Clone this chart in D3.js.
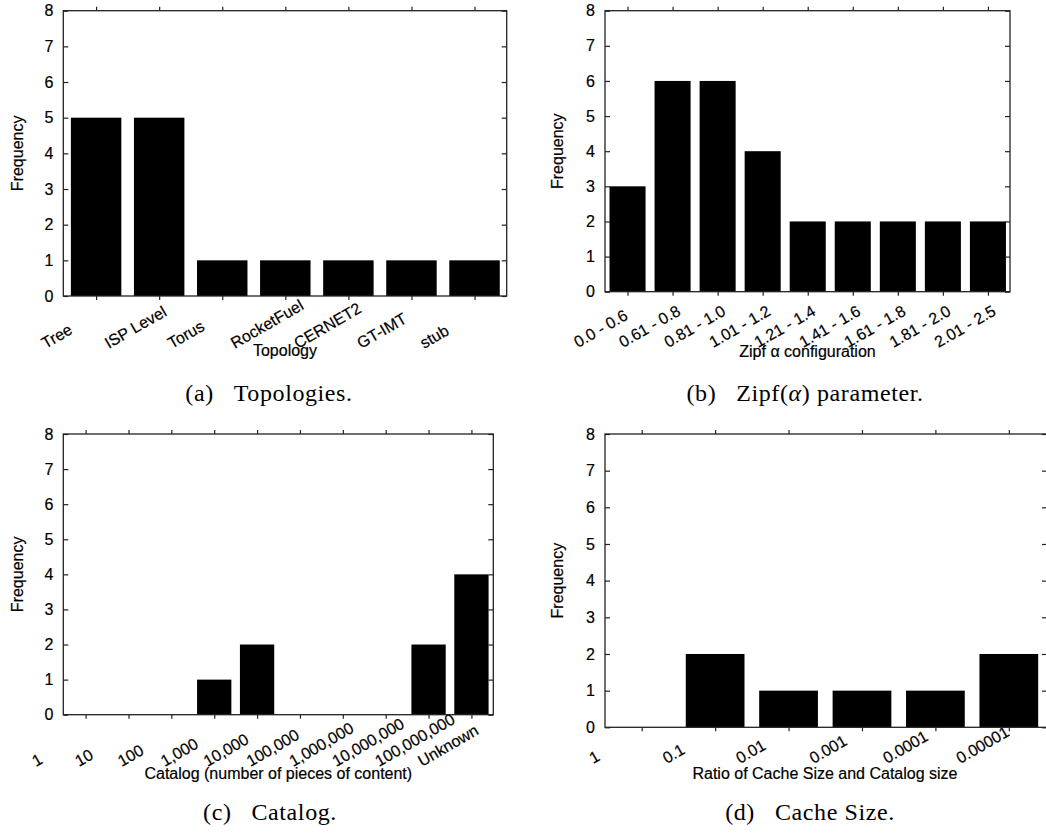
<!DOCTYPE html>
<html>
<head>
<meta charset="utf-8">
<script src="https://cdn.jsdelivr.net/npm/d3@7"></script>
<style>
  body { margin: 0; background: #fff; }
  svg { display: block; }
  .axis path { display: none; }
  .axis line { stroke: #222; stroke-width: 1.2; }
  .axis text { font-family: "Liberation Sans", Arial, sans-serif; fill: #000; stroke: #000; stroke-width: 0.2; }
  .lbl { font-family: "Liberation Sans", Arial, sans-serif; fill: #000; stroke: #000; stroke-width: 0.2; }
  .cap { font-family: "Liberation Serif", "Times New Roman", serif; fill: #000; }
</style>
</head>
<body>
<svg id="fig" width="1046" height="834"></svg>
<script>
// ---- data ----
var topoCats = ["Tree", "ISP Level", "Torus", "RocketFuel", "CERNET2", "GT-IMT", "stub"];
var topoFreq = [5, 5, 1, 1, 1, 1, 1];

var zipfCats = ["0.0 - 0.6", "0.61 - 0.8", "0.81 - 1.0", "1.01 - 1.2", "1.21 - 1.4",
                "1.41 - 1.6", "1.61 - 1.8", "1.81 - 2.0", "2.01 - 2.5"];
var zipfFreq = [3, 6, 6, 4, 2, 2, 2, 2, 2];

var catalogCats = ["1", "10", "100", "1,000", "10,000", "100,000", "1,000,000",
                   "10,000,000", "100,000,000", "Unknown"];
var catalogFreq = [0, 0, 0, 1, 2, 0, 0, 0, 2, 4];

var cacheCats = ["1", "0.1", "0.01", "0.001", "0.0001", "0.00001"];
var cacheFreq = [0, 2, 1, 1, 1, 2];

var yTicks = [0, 1, 2, 3, 4, 5, 6, 7, 8];

// ---- layout of the four panels (pixels) ----
var panels = [
  { cats: topoCats, vals: topoFreq, left: 63.3, right: 506.7, top: 10.7, bottom: 296,
    lo: -0.52, hi: 6.51, labY: 349, labDx: -51, xTitle: "Topology", titleY: 356, yLabX: 23,
    cap: ["(a)", "Topologies."], capX: 269, capY: 401 },
  { cats: zipfCats, vals: zipfFreq, left: 605, right: 1010, top: 10.7, bottom: 291.7,
    lo: -0.5, hi: 8.49, labY: 348, labDx: -50, xTitle: "Zipf \u03b1 configuration", titleY: 357, yLabX: 563,
    cap: ["(b)", "Zipf(", "\u03b1", ") parameter."], capX: 805, capY: 401 },
  { cats: catalogCats, vals: catalogFreq, left: 63.3, right: 493.3, top: 434, bottom: 714.7,
    lo: -0.52, hi: 9.51, labY: 767, labDx: -50, xTitle: "Catalog (number of pieces of content)", titleY: 779, yLabX: 23,
    cap: ["(c)", "Catalog."], capX: 270, capY: 820 },
  { cats: cacheCats, vals: cacheFreq, left: 605, right: 1047, top: 434, bottom: 727.3,
    lo: -0.5, hi: 5.52, labY: 764, labDx: -49, xTitle: "Ratio of Cache Size and Catalog size", titleY: 779, yLabX: 563,
    cap: ["(d)", "Cache Size."], capX: 810, capY: 820 }
];

var barWidth = 0.8;
var svg = d3.select("#fig");

panels.forEach(function(p) {
  var g = svg.append("g");

  var x = d3.scaleLinear().domain([p.lo, p.hi]).range([p.left, p.right]);
  var y = d3.scaleLinear().domain([0, 8]).range([p.bottom, p.top]);
  var idx = d3.range(p.cats.length);

  // bars
  g.selectAll("rect.bar")
    .data(p.vals.map(function(v, i) { return { i: i, v: v }; }).filter(function(d) { return d.v > 0; }))
    .enter().append("rect")
      .attr("class", "bar")
      .attr("x", function(d) { return x(d.i - barWidth / 2); })
      .attr("width", x(barWidth) - x(0))
      .attr("y", function(d) { return y(d.v); })
      .attr("height", function(d) { return y(0) - y(d.v); })
      .attr("fill", "#000");

  // y axis (ticks point inward), mirrored on the right
  g.append("g").attr("class", "axis")
    .attr("transform", "translate(" + p.left + ",0)")
    .call(d3.axisLeft(y).tickValues(yTicks).tickSizeInner(-5).tickSizeOuter(0).tickPadding(10))
    .selectAll("text").style("font-size", "16px");

  g.append("g").attr("class", "axis")
    .attr("transform", "translate(" + p.right + ",0)")
    .call(d3.axisRight(y).tickValues(yTicks).tickSizeInner(-5).tickSizeOuter(0).tickFormat(""));

  // x axis (ticks point outward), mirrored on top
  var bottomAxis = g.append("g").attr("class", "axis")
    .attr("transform", "translate(0," + p.bottom + ")")
    .call(d3.axisBottom(x).tickValues(idx).tickSizeInner(4).tickSizeOuter(0)
      .tickFormat(function(i) { return p.cats[i]; }));

  bottomAxis.selectAll("text")
    .attr("x", null).attr("y", null).attr("dy", null)
    .attr("text-anchor", "start")
    .style("font-size", "16px")
    .attr("transform", "translate(" + p.labDx + "," + (p.labY - p.bottom) + ") rotate(-30)");

  g.append("g").attr("class", "axis")
    .attr("transform", "translate(0," + p.top + ")")
    .call(d3.axisTop(x).tickValues(idx).tickSizeInner(4).tickSizeOuter(0).tickFormat(""));

  // frame
  g.append("rect")
    .attr("x", p.left).attr("y", p.top)
    .attr("width", p.right - p.left).attr("height", p.bottom - p.top)
    .attr("fill", "none").attr("stroke", "#222").attr("stroke-width", 1.3);

  // axis titles
  g.append("text").attr("class", "lbl")
    .attr("x", (p.left + Math.min(p.right, 1045)) / 2).attr("y", p.titleY)
    .attr("text-anchor", "middle")
    .style("font-size", "16px")
    .text(p.xTitle);

  g.append("text").attr("class", "lbl")
    .attr("transform", "translate(" + p.yLabX + "," + ((p.top + p.bottom) / 2) + ") rotate(-90)")
    .attr("text-anchor", "middle")
    .style("font-size", "16px")
    .text("Frequency");

  // sub-caption
  var cap = g.append("text").attr("class", "cap")
    .attr("x", p.capX).attr("y", p.capY)
    .attr("text-anchor", "middle")
    .style("font-size", "24px")
    .style("letter-spacing", "0.6px");
  cap.append("tspan").text(p.cap[0]);
  p.cap.slice(1).forEach(function(s, k) {
    var t = cap.append("tspan").text(s);
    if (k === 0) t.attr("dx", 20);
    if (s === "\u03b1") t.style("font-style", "italic");
  });
});
</script>
</body>
</html>
